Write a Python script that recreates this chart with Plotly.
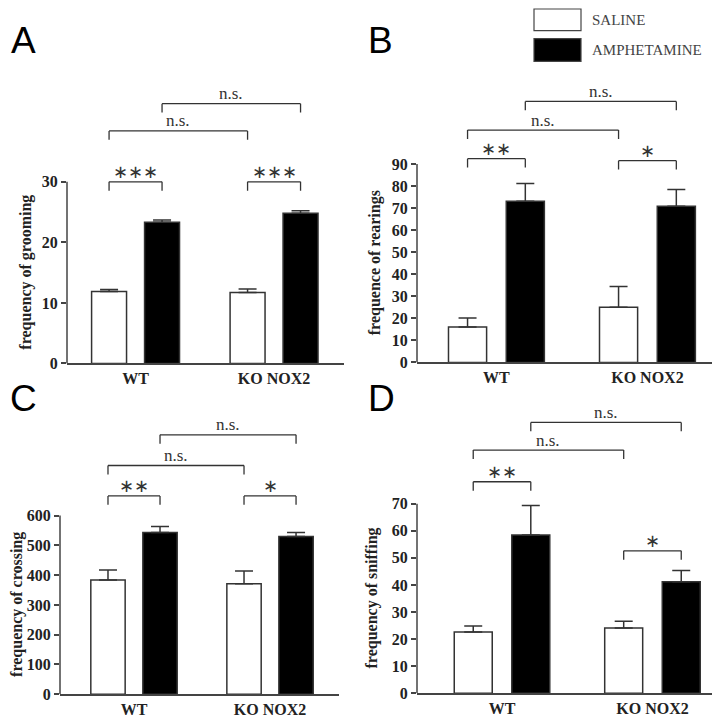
import plotly.graph_objects as go

# ---------------- data ----------------
groups = ["WT", "KO NOX2"]
series_names = ["SALINE", "AMPHETAMINE"]

grooming_saline = [11.9, 11.7]
grooming_saline_err = [0.3, 0.6]
grooming_amph = [23.3, 24.8]
grooming_amph_err = [0.4, 0.4]

rearing_saline = [16.1, 25.1]
rearing_saline_err = [4.1, 9.4]
rearing_amph = [73.1, 70.8]
rearing_amph_err = [8.1, 7.7]

crossing_saline = [384, 371]
crossing_saline_err = [33, 43]
crossing_amph = [543, 530]
crossing_amph_err = [20, 13]

sniffing_saline = [22.6, 24.1]
sniffing_saline_err = [2.2, 2.5]
sniffing_amph = [58.4, 41.2]
sniffing_amph_err = [10.9, 4.1]

titles = ["frequency of grooming", "frequence of rearings",
          "frequency of crossing", "frequency of sniffing"]
letters = ["A", "B", "C", "D"]
tick_values = [[0, 10, 20, 30],
               [0, 10, 20, 30, 40, 50, 60, 70, 80, 90],
               [0, 100, 200, 300, 400, 500, 600],
               [0, 10, 20, 30, 40, 50, 60, 70]]

# significance brackets: (from bar, to bar, level, label); bars 0=WT sal,1=WT amph,2=KO sal,3=KO amph
brackets = [
    [(0, 1, 30, "∗∗∗"), (2, 3, 30, "∗∗∗"), (0, 2, 38.4, "n.s."), (1, 3, 42.9, "n.s.")],
    [(0, 1, 92.4, "∗∗"), (2, 3, 91.5, "∗"), (0, 2, 105.4, "n.s."), (1, 3, 118.4, "n.s.")],
    [(0, 1, 666, "∗∗"), (2, 3, 666, "∗"), (0, 2, 768, "n.s."), (1, 3, 871, "n.s.")],
    [(0, 1, 78.1, "∗∗"), (2, 3, 52.6, "∗"), (0, 2, 89.8, "n.s."), (1, 3, 100, "n.s.")],
]

datasets = [
    (grooming_saline, grooming_saline_err, grooming_amph, grooming_amph_err),
    (rearing_saline, rearing_saline_err, rearing_amph, rearing_amph_err),
    (crossing_saline, crossing_saline_err, crossing_amph, crossing_amph_err),
    (sniffing_saline, sniffing_saline_err, sniffing_amph, sniffing_amph_err),
]

# ---------------- layout geometry (pixels) ----------------
W, H = 720, 717
panels = [
    dict(x0=59, x1=336, zero=360, toptick=176, dtop=70, xr=[-0.495, 1.505], tx=18, lx=15, ly=33),
    dict(x0=409, x1=716, zero=359, toptick=158, dtop=70, xr=[-0.526, 1.507], tx=367, lx=372, ly=33),
    dict(x0=52, x1=331, zero=695, toptick=514, dtop=405, xr=[-0.544, 1.507], tx=9, lx=15, ly=395),
    dict(x0=409, x1=720, zero=694, toptick=502, dtop=395, xr=[-0.565, 1.502], tx=364, lx=373, ly=395),
]

BARGAP = 0.235
BARGROUPGAP = 0.34
slot = (1 - BARGAP) / 2
bar_x = [-slot / 2, slot / 2, 1 - slot / 2, 1 + slot / 2]

def xp(px):
    return px / W

def yp(py):
    return 1 - py / H

EDGE = "#333333"
AXC = "#444444"
SERIF = "Liberation Serif"
SANS = "Liberation Sans"

fig = go.Figure()
shapes = []
annotations = []
layout = {}

for i, (p, ds) in enumerate(zip(panels, datasets)):
    sal, sal_e, amp, amp_e = ds
    n = "" if i == 0 else str(i + 1)
    xa, ya = "x" + n, "y" + n
    topval = tick_values[i][-1]
    upp = topval / (p["zero"] - p["toptick"])  # data units per pixel
    rtop = upp * (p["zero"] - p["dtop"])

    fig.add_trace(go.Bar(
        x=groups, y=sal, name=series_names[0], xaxis=xa, yaxis=ya,
        marker=dict(color="white", line=dict(color=EDGE, width=1.5)),
        error_y=dict(type="data", array=sal_e, arrayminus=[0] * len(sal_e), symmetric=False,
                     color=EDGE, thickness=1.5, width=9),
        showlegend=False, offsetgroup="s"))
    fig.add_trace(go.Bar(
        x=groups, y=amp, name=series_names[1], xaxis=xa, yaxis=ya,
        marker=dict(color="black", line=dict(color=EDGE, width=1.5)),
        error_y=dict(type="data", array=amp_e, arrayminus=[0] * len(amp_e), symmetric=False,
                     color=EDGE, thickness=1.5, width=9),
        showlegend=False, offsetgroup="a"))

    layout["xaxis" + n] = dict(
        domain=[xp(p["x0"]), xp(p["x1"])], anchor=ya, range=p["xr"],
        showline=True, linecolor=AXC, linewidth=1.5, ticks="", showgrid=False, zeroline=False,
        tickfont=dict(family=SERIF, size=16, color="#222", weight="bold"),
        categoryorder="array", categoryarray=groups, fixedrange=True)
    layout["yaxis" + n] = dict(
        domain=[yp(p["zero"]), yp(p["dtop"])], anchor=xa, range=[0, rtop],
        showline=False, showgrid=False, zeroline=False,
        tickvals=tick_values[i], ticks="outside", ticklen=5, tickwidth=1.5, tickcolor=AXC,
        tickfont=dict(family=SERIF, size=16, color="#222", weight="bold"), fixedrange=True)

    # y axis line over the labelled range
    shapes.append(dict(type="line", xref="paper", yref=ya, x0=xp(p["x0"]), x1=xp(p["x0"]),
                       y0=0, y1=topval, line=dict(color=AXC, width=1.5)))

    # brackets
    drop = 9 * upp
    for (a, b, lev, lab) in brackets[i]:
        xa0, xa1 = bar_x[a], bar_x[b]
        for seg in [(xa0, lev, xa1, lev), (xa0, lev, xa0, lev - drop), (xa1, lev, xa1, lev - drop)]:
            shapes.append(dict(type="line", xref=xa, yref=ya, x0=seg[0], y0=seg[1], x1=seg[2], y1=seg[3],
                               line=dict(color=EDGE, width=1.3)))
        star = lab != "n.s."
        annotations.append(dict(xref=xa, yref=ya, x=(xa0 + xa1) / 2, y=lev, text=lab, showarrow=False,
                                xanchor="center", yanchor="middle", yshift=10,
                                font=dict(family=SERIF, size=18 if star else 17, color="#333")))

    # y title
    annotations.append(dict(xref="paper", yref="paper", x=xp(p["tx"]),
                            y=yp((p["zero"] + p["toptick"]) / 2), text=titles[i], textangle=-90,
                            showarrow=False, xanchor="center", yanchor="middle",
                            font=dict(family=SERIF, size=16, color="#222", weight="bold")))
    # panel letter
    annotations.append(dict(xref="paper", yref="paper", x=xp(p["lx"]), y=yp(p["ly"]), text=letters[i],
                            showarrow=False, xanchor="center", yanchor="middle",
                            font=dict(family=SANS, size=37, color="black")))

# legend drawn manually
shapes.append(dict(type="rect", xref="paper", yref="paper", x0=xp(526), x1=xp(573), y0=yp(23), y1=yp(1),
                   fillcolor="white", line=dict(color=AXC, width=1.2)))
shapes.append(dict(type="rect", xref="paper", yref="paper", x0=xp(526), x1=xp(573), y0=yp(54), y1=yp(31),
                   fillcolor="black", line=dict(color=AXC, width=1.2)))
annotations.append(dict(xref="paper", yref="paper", x=xp(582), y=yp(12), text=series_names[0],
                        showarrow=False, xanchor="left", yanchor="middle",
                        font=dict(family=SERIF, size=15, color="#444")))
annotations.append(dict(xref="paper", yref="paper", x=xp(582), y=yp(43), text=series_names[1],
                        showarrow=False, xanchor="left", yanchor="middle",
                        font=dict(family=SERIF, size=15, color="#444")))

fig.update_layout(
    width=W, height=H, margin=dict(l=0, r=0, t=0, b=0),
    paper_bgcolor="white", plot_bgcolor="white",
    barmode="group", bargap=BARGAP, bargroupgap=BARGROUPGAP,
    shapes=shapes, annotations=annotations, showlegend=False,
    **layout)

fig.write_html("out.html")
